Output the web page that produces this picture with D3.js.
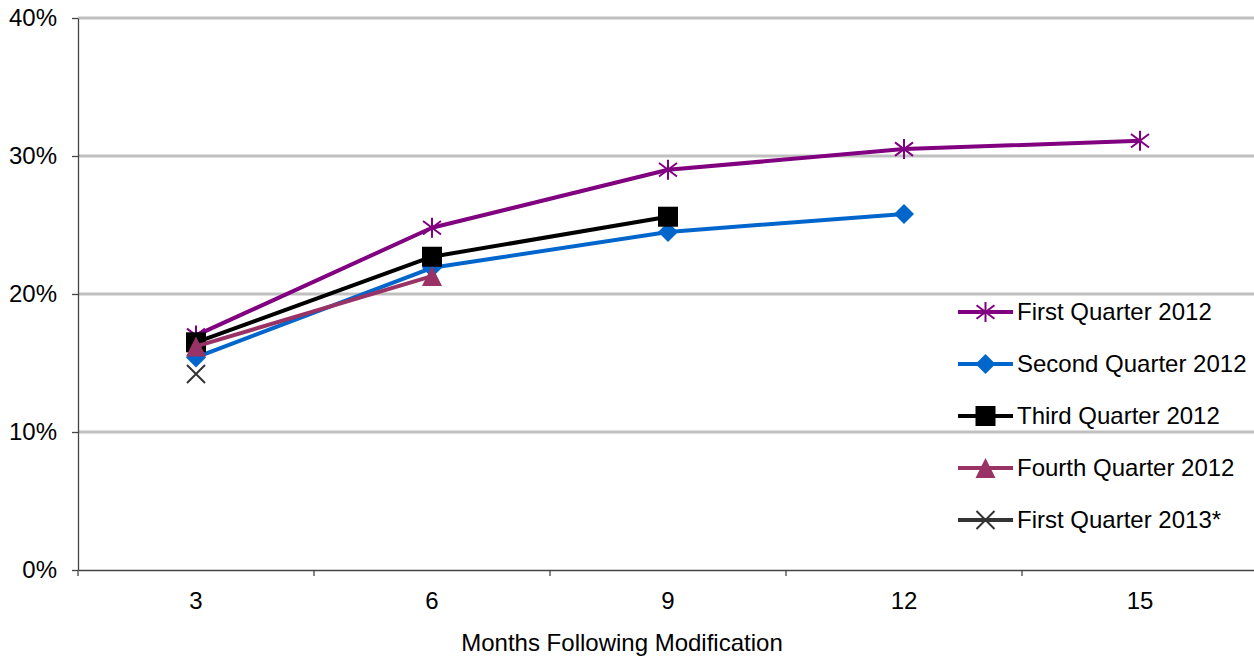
<!DOCTYPE html>
<html><head><meta charset="utf-8">
<script src="https://cdn.jsdelivr.net/npm/d3@7"></script>
<style>body{margin:0;background:#fff;}svg{display:block;font-family:"Liberation Sans",Arial,sans-serif;}</style>
</head><body>
<svg id="c" width="1254" height="656"></svg>
<script>
const categories = ["3","6","9","12","15"];
const yTicks = [0,10,20,30,40];
const seriesNames = ["First Quarter 2012","Second Quarter 2012","Third Quarter 2012","Fourth Quarter 2012","First Quarter 2013*"];
const q1_2012 = [17.0,24.8,29.0,30.5,31.1];
const q2_2012 = [15.4,21.9,24.5,25.8];
const q3_2012 = [16.5,22.7,25.6];
const q4_2012 = [16.2,21.3];
const q1_2013 = [14.2];
const seriesColors = ["#800080","#0066CC","#000000","#993366","#333333"];
const seriesMarkers = ["asterisk","diamond","square","triangle","cross"];
const seriesValues = [q1_2012,q2_2012,q3_2012,q4_2012,q1_2013];

const svg = d3.select("#c");
const pLeft=78, pRight=1258, pTop=18, pBottom=570;
const FS = 24;
const x = d3.scaleBand().domain(categories).range([pLeft,pRight]);
const y = d3.scaleLinear().domain([0,40]).range([pBottom,pTop]);

// gridlines
svg.append("g").selectAll("line").data(yTicks.filter(d=>d>0)).join("line")
  .attr("x1",pLeft).attr("x2",1254).attr("y1",d=>y(d)).attr("y2",d=>y(d))
  .attr("stroke","#c0c0c0").attr("stroke-width",3);

// y axis
const ya = svg.append("g").attr("transform",`translate(${pLeft},0)`)
  .call(d3.axisLeft(y).tickValues(yTicks).tickSize(6).tickFormat(d=>d+"%").tickSizeOuter(0));
ya.select(".domain").attr("stroke","#444").attr("stroke-width",1.3);
ya.selectAll(".tick line").attr("stroke","#444").attr("stroke-width",1.3);
ya.selectAll("text").attr("font-size",FS).attr("fill","#000").attr("x",-21).attr("font-family","Liberation Sans, Arial, sans-serif");

// x axis
const xa = svg.append("g").attr("transform",`translate(0,${pBottom})`)
  .call(d3.axisBottom(x).tickSize(0).tickSizeOuter(0));
xa.select(".domain").attr("stroke","#444").attr("stroke-width",1.3);
xa.selectAll("text").attr("font-size",FS).attr("fill","#000").attr("dy","0").attr("y",39).attr("font-family","Liberation Sans, Arial, sans-serif");
// boundary ticks
svg.append("g").selectAll("line").data(categories).join("line")
  .attr("x1",d=>x(d)).attr("x2",d=>x(d)).attr("y1",pBottom).attr("y2",pBottom+6)
  .attr("stroke","#444").attr("stroke-width",1.3);

svg.append("text").attr("x",622).attr("y",651).attr("text-anchor","middle")
  .attr("font-size",FS).text("Months Following Modification");

const cx = c => x(c)+x.bandwidth()/2;

function marker(g, type, px, py, color){
  if(type==="asterisk"){
    const r=9;
    g.append("path").attr("d",`M${px-r},${py-r*0.75}L${px+r},${py+r*0.75}M${px-r},${py+r*0.75}L${px+r},${py-r*0.75}M${px},${py-r-1}L${px},${py+r+1}`)
      .attr("stroke",color).attr("stroke-width",2).attr("fill","none");
  } else if(type==="diamond"){
    const r=10;
    g.append("path").attr("d",`M${px},${py-r}L${px+r},${py}L${px},${py+r}L${px-r},${py}Z`).attr("fill",color);
  } else if(type==="square"){
    const r=10;
    g.append("rect").attr("x",px-r).attr("y",py-r).attr("width",2*r).attr("height",2*r).attr("fill",color);
  } else if(type==="triangle"){
    const r=10;
    g.append("path").attr("d",`M${px},${py-r}L${px+r},${py+r}L${px-r},${py+r}Z`).attr("fill",color);
  } else if(type==="cross"){
    const r=9;
    g.append("path").attr("d",`M${px-r},${py-r}L${px+r},${py+r}M${px-r},${py+r}L${px+r},${py-r}`)
      .attr("stroke",color).attr("stroke-width",2).attr("fill","none");
  }
}

const line = d3.line().x((d,i)=>cx(categories[i])).y(d=>y(d));
seriesValues.forEach((vals,si)=>{
  const g = svg.append("g");
  g.append("path").datum(vals).attr("d",line).attr("fill","none")
    .attr("stroke",seriesColors[si]).attr("stroke-width",4).attr("stroke-linejoin","round");
  vals.forEach((v,i)=>marker(g,seriesMarkers[si],cx(categories[i]),y(v),seriesColors[si]));
});

// legend
const lg = svg.append("g");
seriesNames.forEach((n,i)=>{
  const ly = 312 + i*52;
  lg.append("line").attr("x1",958).attr("x2",1013).attr("y1",ly).attr("y2",ly)
    .attr("stroke",seriesColors[i]).attr("stroke-width",4);
  marker(lg,seriesMarkers[i],985.5,ly,seriesColors[i]);
  lg.append("text").attr("x",1017).attr("y",ly).attr("dy","0.35em").attr("font-size",FS).text(n);
});
</script>
</body></html>
